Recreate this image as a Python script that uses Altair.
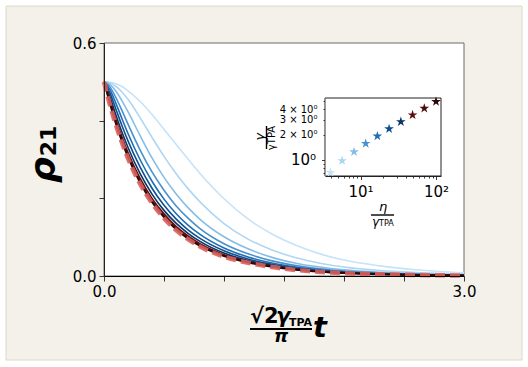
import altair as alt
import pandas as pd

# time axis (sqrt(2) gamma_TPA t / pi) shared by every curve
t_grid = [0.0, 0.05, 0.1, 0.15, 0.2, 0.3, 0.4, 0.5, 0.6, 0.7, 0.8, 1.0, 1.2, 1.4, 1.6, 1.8, 2.0, 2.3, 2.6, 3.0]

# rho_21(t) for increasing eta / gamma_TPA
rho_eta_1 = [0.5, 0.499, 0.495, 0.488, 0.477, 0.450, 0.416, 0.378, 0.339, 0.301, 0.264, 0.199, 0.147, 0.108, 0.079, 0.057, 0.041, 0.026, 0.016, 0.008]
rho_eta_2 = [0.5, 0.497, 0.488, 0.474, 0.455, 0.408, 0.357, 0.308, 0.264, 0.225, 0.191, 0.135, 0.095, 0.067, 0.047, 0.033, 0.023, 0.014, 0.009, 0.005]
rho_eta_3 = [0.5, 0.493, 0.476, 0.451, 0.423, 0.362, 0.304, 0.254, 0.212, 0.176, 0.146, 0.101, 0.070, 0.048, 0.033, 0.023, 0.016, 0.0097, 0.0059, 0.0029]
rho_eta_4 = [0.5, 0.487, 0.459, 0.426, 0.391, 0.325, 0.268, 0.221, 0.181, 0.149, 0.122, 0.083, 0.057, 0.039, 0.027, 0.0185, 0.0127, 0.0077, 0.0047, 0.0023]
rho_eta_5 = [0.5, 0.480, 0.444, 0.405, 0.367, 0.300, 0.244, 0.198, 0.161, 0.131, 0.107, 0.072, 0.049, 0.0335, 0.023, 0.0157, 0.0108, 0.0065, 0.0039, 0.0019]
rho_eta_6 = [0.5, 0.471, 0.429, 0.387, 0.348, 0.281, 0.226, 0.182, 0.147, 0.119, 0.097, 0.065, 0.044, 0.030, 0.0205, 0.014, 0.0096, 0.0058, 0.0035, 0.0017]
rho_eta_7 = [0.5, 0.461, 0.414, 0.370, 0.331, 0.264, 0.211, 0.169, 0.136, 0.110, 0.089, 0.059, 0.040, 0.0275, 0.0187, 0.0127, 0.0087, 0.0052, 0.0031, 0.0015]
rho_eta_8 = [0.5, 0.453, 0.403, 0.358, 0.318, 0.252, 0.200, 0.160, 0.128, 0.103, 0.083, 0.055, 0.0375, 0.0256, 0.0174, 0.0118, 0.008, 0.0048, 0.0029, 0.0014]
rho_eta_9 = [0.5, 0.447, 0.395, 0.350, 0.310, 0.245, 0.194, 0.155, 0.123, 0.099, 0.080, 0.053, 0.036, 0.0245, 0.0166, 0.0113, 0.0077, 0.0046, 0.0028, 0.0013]
rho_eta_10 = [0.5, 0.442, 0.390, 0.345, 0.305, 0.240, 0.190, 0.151, 0.120, 0.096, 0.077, 0.051, 0.0345, 0.0234, 0.0158, 0.0107, 0.0073, 0.0043, 0.0026, 0.0012]

# large-eta limit, drawn dashed on top
rho_limit = [0.5, 0.440, 0.388, 0.343, 0.303, 0.238, 0.188, 0.149, 0.118, 0.095, 0.076, 0.050, 0.034, 0.023, 0.0155, 0.0105, 0.0072, 0.0042, 0.0025, 0.0012]

# inset: effective decay rate versus eta (both in units of gamma_TPA)
eta_values = [4.0, 5.7, 8.2, 11.7, 16.7, 23.9, 34.2, 48.9, 69.9, 100.0]
gamma_values = [0.71, 0.98, 1.25, 1.57, 1.92, 2.35, 2.85, 3.43, 4.11, 4.95]

curve_colors = ["#c6e3f7", "#aed6f3", "#86bde6", "#4a90cd", "#1f6db3",
                "#0e4f8f", "#0b3366", "#5e0b0b", "#4a0b0b", "#2b0808"]

series = [rho_eta_1, rho_eta_2, rho_eta_3, rho_eta_4, rho_eta_5,
          rho_eta_6, rho_eta_7, rho_eta_8, rho_eta_9, rho_eta_10]
keys = [f"c{i:02d}" for i in range(len(series))]

rows = []
for key, vals in zip(keys, series):
    for t, v in zip(t_grid, vals):
        rows.append({"curve": key, "t": t, "rho": v})
curves_df = pd.DataFrame(rows)
limit_df = pd.DataFrame({"t": t_grid, "rho": rho_limit})
inset_df = pd.DataFrame({"curve": keys, "eta": eta_values, "gamma": gamma_values})

W, H = 360, 233
FONT = "DejaVu Sans"
color_scale = alt.Scale(domain=keys, range=curve_colors)
one = pd.DataFrame({"k": [0]})

STAR = ("M0,-1 L-0.2245,-0.309 L-0.951,-0.309 L-0.363,0.118 L-0.588,0.809 "
        "L0,0.382 L0.588,0.809 L0.363,0.118 L0.951,-0.309 L0.2245,-0.309 Z")

# figure patch and plot area
figure_patch = alt.Chart(one).mark_rect(fill="#f4f1ea", stroke="#dcd8cc", strokeWidth=1).encode(
    x=alt.value(-98), x2=alt.value(418), y=alt.value(-37), y2=alt.value(317))
plot_patch = alt.Chart(one).mark_rect(fill="white", stroke="#6a6a6a", strokeWidth=1).encode(
    x=alt.value(0), x2=alt.value(W), y=alt.value(0), y2=alt.value(H))

x_axis = alt.Axis(values=[0.0, 0.5, 1.0, 1.5, 2.0, 2.5, 3.0],
                  labelExpr="datum.value == 0 ? '0.0' : datum.value == 3 ? '3.0' : ''",
                  orient="bottom", title=None, grid=False, tickSize=5, tickColor="#222",
                  domainColor="black", labelFontSize=15, labelPadding=3, zindex=2,
                  labelFlush=False, labelOverlap=False)
y_axis = alt.Axis(values=[0.0, 0.1, 0.2, 0.3, 0.4, 0.5, 0.6],
                  labelExpr="datum.value == 0 ? '0.0' : datum.value > 0.55 ? '0.6' : ''",
                  orient="left", title=None, grid=False, tickSize=5, tickColor="#222",
                  domainColor="#222", labelFontSize=15, labelPadding=3, zindex=2,
                  labelFlush=False, labelOverlap=False)

lines = alt.Chart(curves_df).mark_line(strokeWidth=1.6, interpolate="monotone").encode(
    x=alt.X("t:Q", scale=alt.Scale(domain=[0, 3], nice=False, zero=False), axis=x_axis),
    y=alt.Y("rho:Q", scale=alt.Scale(domain=[0, 0.6], nice=False), axis=y_axis),
    color=alt.Color("curve:N", scale=color_scale, legend=None),
)
limit = alt.Chart(limit_df).mark_line(strokeWidth=4.5, strokeDash=[10, 5], color="#d9605c",
                                      opacity=0.9, interpolate="monotone").encode(
    x="t:Q", y="rho:Q")
main = alt.layer(lines, limit)

# inset axes, placed inside the main plot through the scale ranges
ix0, ix1, iy0, iy1 = 221, 337, 55, 133
inset_patch = alt.Chart(one).mark_rect(fill="white", stroke="#222", strokeWidth=1).encode(
    x=alt.value(ix0), x2=alt.value(ix1), y=alt.value(iy0), y2=alt.value(iy1))

ix_axis = alt.Axis(values=[4, 5, 6, 7, 8, 9, 10, 20, 30, 40, 50, 60, 70, 80, 90, 100],
                   labelExpr="datum.value == 10 ? '10¹' : datum.value == 100 ? '10²' : ''",
                   orient="bottom", offset=-(H - iy1), title=None, grid=False,
                   tickSize={"condition": {"test": "datum.value == 10 || datum.value == 100", "value": 3.5}, "value": 2},
                   tickColor="#222", domainColor="#222", labelFontSize=15, labelPadding=5,
                   zindex=2, labelFlush=False, labelOverlap=False)
iy_axis = alt.Axis(values=[0.7, 0.8, 0.9, 1, 2, 3, 4, 5],
                   labelExpr="datum.value == 1 ? '10⁰' : datum.value == 2 ? '2 × 10⁰' : datum.value == 3 ? '3 × 10⁰' : datum.value == 4 ? '4 × 10⁰' : ''",
                   orient="left", offset=-ix0, title=None, grid=False,
                   tickSize={"condition": {"test": "datum.value == 1", "value": 3.5}, "value": 2},
                   labelFontSize={"condition": {"test": "datum.value == 1", "value": 15}, "value": 10},
                   tickColor="#222", domainColor="#999", labelPadding=6,
                   zindex=2, labelFlush=False, labelOverlap=False)

stars = alt.Chart(inset_df).mark_point(shape=STAR, filled=True, size=105, strokeWidth=0.6,
                                       opacity=1).encode(
    x=alt.X("eta:Q", scale=alt.Scale(type="log", domain=[3.38, 116.4], range=[ix0, ix1], nice=False), axis=ix_axis),
    y=alt.Y("gamma:Q", scale=alt.Scale(type="log", domain=[0.645, 5.46], range=[iy1, iy0], nice=False), axis=iy_axis),
    color=alt.Color("curve:N", scale=color_scale, legend=None),
)


def label(text, x, y, size, angle=0, align="center", baseline="middle",
          style="normal", weight="normal"):
    return alt.Chart(one).mark_text(text=text, font=FONT, fontSize=size, angle=angle,
                                    align=align, baseline=baseline, fontStyle=style,
                                    fontWeight=weight, color="black").encode(
        x=alt.value(x), y=alt.value(y))


def bar(x0, x1, y0, y1, width):
    return alt.Chart(one).mark_rule(color="black", strokeWidth=width).encode(
        x=alt.value(x0), x2=alt.value(x1), y=alt.value(y0), y2=alt.value(y1))


texts = [
    # main y title: rho_21
    label("ρ", -60, 127, 36, angle=270, style="italic", weight="bold"),
    label("21", -55, 98, 22, angle=270, weight="bold"),
    # main x title: sqrt(2) gamma_TPA / pi  t
    label("√2", 146, 280, 21, align="left", baseline="alphabetic", weight="bold"),
    label("γ", 172, 280, 21, align="left", baseline="alphabetic", style="italic", weight="bold"),
    label("TPA", 185, 283, 11, align="left", baseline="alphabetic", weight="bold"),
    bar(146, 208, 286, 286, 2.2),
    label("π", 177, 299, 18, baseline="alphabetic", style="italic", weight="bold"),
    label("t", 209, 294, 29, align="left", baseline="alphabetic", style="italic", weight="bold"),
    # inset x title: eta / gamma_TPA
    label("η", 279, 164, 13, style="italic"),
    bar(267, 290, 172, 172, 1.4),
    label("γ", 268, 183, 12, align="left", baseline="alphabetic", style="italic"),
    label("TPA", 275, 183, 8, align="left", baseline="alphabetic"),
    # inset y title: gamma / gamma_TPA
    label("γ", 156, 94, 13, angle=270, style="italic"),
    bar(162.5, 162.5, 83, 106, 1.4),
    label("γTPA", 168, 95, 10, angle=270),
]

chart = alt.layer(figure_patch, plot_patch, main, inset_patch, stars, *texts).resolve_scale(
    x="independent", y="independent"
).properties(
    width=W, height=H, autosize="none",
    padding={"left": 104, "top": 43, "right": 64, "bottom": 91},
).configure(background="white", font=FONT).configure_view(stroke=None).configure_axis(
    labelFont=FONT, domainWidth=1, tickWidth=0.9, labelColor="black")

chart.save("out.html", embed_options={"renderer": "svg", "actions": False})
